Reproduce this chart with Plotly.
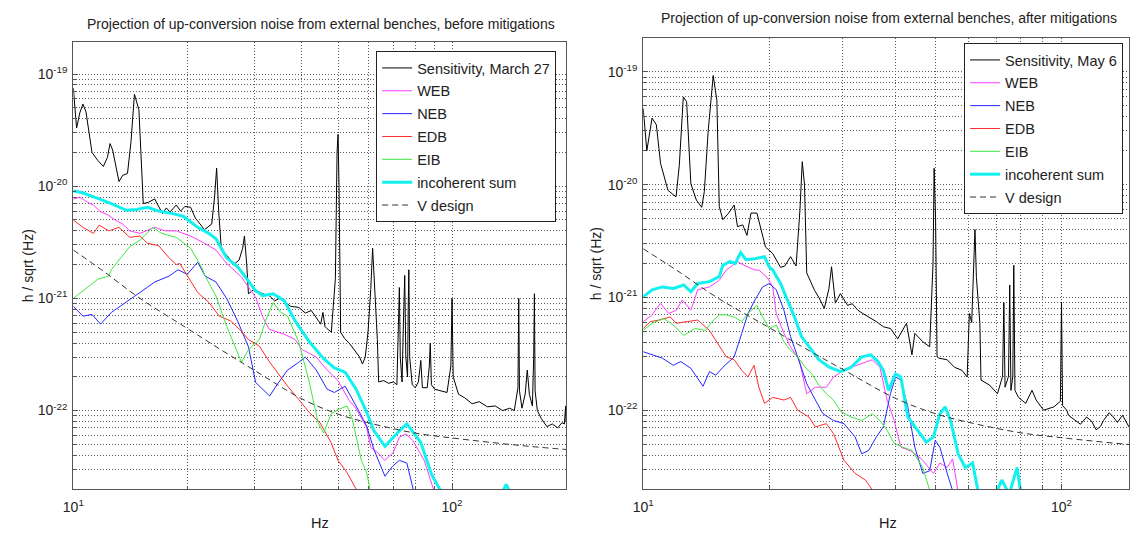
import math
import plotly.graph_objects as go

# ---------------- Left panel: before mitigations (March 27) ----------------
L_SENS = [
    (10.0, 7.5e-20), (10.1, 5.0e-20), (10.2, 3.3e-20), (10.4, 4.5e-20), (10.6, 5.4e-20),
    (10.8, 4.6e-20), (11.2, 2.0e-20), (11.6, 1.7e-20), (12.0, 1.5e-20), (12.3, 1.8e-20),
    (12.5, 2.4e-20), (12.7, 2.1e-20), (13.2, 1.1e-20), (13.5, 1.25e-20), (13.9, 1.3e-20),
    (14.2, 2.5e-20), (14.5, 6.6e-20), (14.9, 4.8e-20), (15.1, 1.6e-20), (15.3, 7.0e-21),
    (15.8, 7.2e-21), (16.4, 7.7e-21), (16.8, 6.6e-21), (17.2, 5.7e-21), (17.6, 6.4e-21),
    (18.0, 5.9e-21), (18.7, 6.8e-21), (19.2, 6.0e-21), (19.7, 6.6e-21), (20.4, 6.5e-21),
    (21.0, 5.2e-21), (21.6, 4.6e-21), (22.2, 4.1e-21), (23.2, 4.6e-21), (23.6, 8.0e-21),
    (23.9, 1.45e-20), (24.2, 6.0e-21), (24.6, 2.7e-21), (25.5, 2.4e-21), (26.5, 2.0e-21),
    (27.4, 2.2e-21), (28.0, 2.8e-21), (28.3, 3.6e-21), (28.7, 2.0e-21), (29.0, 1.1e-21),
    (30.0, 1.2e-21), (31.6, 1.1e-21), (33.0, 1.05e-21), (34.0, 9.5e-22), (35.0, 1.0e-21),
    (36.0, 9.4e-22), (37.5, 8.5e-22), (39.4, 8.3e-22), (41.0, 7.4e-22), (42.5, 7.8e-22),
    (43.8, 6.7e-22), (45.0, 5.9e-22), (45.6, 7.5e-22), (46.2, 5.6e-22), (46.7, 5.4e-22),
    (48.0, 5.0e-22), (49.2, 1.5e-21), (49.7, 2.0e-20), (50.0, 2.9e-20), (50.3, 1.0e-20),
    (50.8, 5.0e-22), (52.0, 4.4e-22), (53.5, 4.0e-22), (55.6, 3.4e-22), (57.0, 3.0e-22),
    (58.0, 2.6e-22), (59.0, 3.0e-22), (60.0, 5.0e-22), (61.0, 1.2e-21), (61.7, 2.8e-21),
    (62.3, 1.5e-21), (63.0, 6.0e-22), (63.5, 4.3e-22), (64.0, 1.8e-22), (66.0, 1.85e-22),
    (68.0, 1.75e-22), (70.0, 1.8e-22), (71.5, 1.7e-22), (72.2, 6.0e-22), (72.6, 1.25e-21),
    (73.0, 3.0e-22), (73.8, 1.8e-22), (74.4, 6.0e-22), (75.0, 1.6e-21), (75.5, 3.0e-22),
    (76.3, 2.0e-22), (76.6, 8.0e-22), (76.9, 1.8e-21), (77.3, 3.0e-22), (78.5, 1.7e-22),
    (80.0, 1.6e-22), (81.5, 1.8e-22), (82.7, 2.8e-22), (83.5, 1.6e-22), (86.0, 1.6e-22),
    (87.1, 2.5e-22), (87.6, 4.0e-22), (88.2, 1.7e-22), (90.0, 1.55e-22), (94.0, 1.5e-22),
    (97.0, 1.45e-22), (99.3, 2.5e-22), (100.0, 1.0e-21), (100.7, 2.0e-22), (104.0, 1.4e-22),
    (108.0, 1.3e-22), (113.0, 1.15e-22), (118.0, 1.2e-22), (124.0, 1.08e-22), (130.0, 1.1e-22),
    (136.0, 1.0e-22), (142.0, 1.05e-22), (146.0, 1.0e-22), (149.3, 1.6e-22), (150.0, 1.0e-21),
    (150.7, 1.5e-22), (153.0, 1.05e-22), (156.0, 1.4e-22), (158.0, 2.3e-22), (160.0, 1.4e-22),
    (163.0, 1.1e-22), (164.3, 3.0e-22), (165.0, 1.1e-21), (165.7, 1.5e-22), (168.0, 1.0e-22),
    (172.0, 8.5e-23), (178.0, 7.2e-23), (184.0, 7.6e-23), (190.0, 7.0e-23), (195.0, 7.8e-23),
    (198.0, 7.6e-23), (199.5, 1.1e-22), (200.0, 8.0e-23),
]
L_WEB = [
    (10.0, 7.65e-21), (10.4, 8.0e-21), (10.9, 7.2e-21), (11.3, 6.8e-21), (11.8, 5.9e-21),
    (12.3, 5.6e-21), (12.9, 5.0e-21), (13.5, 4.6e-21), (14.1, 4.0e-21), (15.0, 3.8e-21),
    (16.4, 4.3e-21), (17.5, 4.0e-21), (18.7, 4.0e-21), (20.4, 3.6e-21), (22.2, 3.1e-21),
    (23.8, 2.7e-21), (25.4, 2.05e-21), (27.8, 1.55e-21), (30.3, 1.02e-21), (31.6, 6.9e-22),
    (32.9, 5.3e-22), (36.0, 4.8e-22), (38.5, 4.3e-22), (40.2, 3.5e-22), (43.8, 3.0e-22),
    (46.8, 2.3e-22), (50.0, 1.85e-22), (53.5, 1.23e-22), (55.7, 1.05e-22), (59.5, 7.1e-23),
    (61.0, 4.7e-23), (63.7, 4.2e-23), (66.4, 3.6e-23), (69.9, 4.2e-23), (72.6, 5.8e-23),
    (75.7, 6.2e-23), (78.8, 5.4e-23), (84.4, 3.6e-23), (90.2, 1.8e-23), (100.0, 1.2e-23),
]
L_NEB = [
    (10.0, 8.5e-22), (10.6, 6.95e-22), (11.2, 7.2e-22), (11.8, 5.9e-22), (12.6, 7.5e-22),
    (13.8, 9.2e-22), (15.0, 1.13e-21), (16.4, 1.4e-21), (17.9, 1.58e-21), (18.9, 1.8e-21),
    (20.0, 1.64e-21), (21.3, 2.1e-21), (22.3, 1.58e-21), (23.8, 1.4e-21), (25.4, 1.0e-21),
    (27.2, 6.2e-22), (29.0, 3.7e-22), (30.3, 1.78e-22), (31.6, 1.55e-22), (33.0, 1.35e-22),
    (34.5, 1.7e-22), (36.8, 2.3e-22), (39.4, 2.7e-22), (41.0, 3.0e-22), (43.8, 2.3e-22),
    (46.8, 1.55e-22), (48.9, 1.45e-22), (52.2, 1.65e-22), (55.8, 1.1e-22), (59.5, 7.3e-23),
    (62.2, 4.5e-23), (66.5, 2.6e-23), (69.7, 3.2e-23), (72.6, 3.6e-23), (76.0, 3.4e-23),
    (79.2, 1.9e-23), (85.0, 1.4e-23),
]
L_EDB = [
    (10.0, 5.0e-21), (10.6, 4.3e-21), (11.3, 3.8e-21), (11.7, 4.5e-21), (12.4, 4.0e-21),
    (13.2, 4.3e-21), (14.1, 3.5e-21), (15.0, 3.6e-21), (15.7, 3.1e-21), (16.8, 2.95e-21),
    (17.9, 2.3e-21), (18.7, 2.0e-21), (19.1, 2.05e-21), (20.0, 1.58e-21), (21.3, 1.13e-21),
    (22.8, 9.2e-22), (24.3, 6.95e-22), (26.0, 6.3e-22), (27.8, 5.1e-22), (29.0, 4.3e-22),
    (31.0, 3.75e-22), (33.0, 2.7e-22), (35.3, 2.0e-22), (36.8, 1.65e-22), (39.4, 1.25e-22),
    (42.0, 9.6e-23), (44.8, 7.8e-23), (47.9, 5.2e-23), (50.0, 3.6e-23), (52.8, 2.8e-23),
    (55.8, 2.0e-23), (60.0, 1.5e-23),
]
L_EIB = [
    (10.0, 1.0e-21), (10.6, 1.16e-21), (11.6, 1.48e-21), (12.4, 1.58e-21), (12.6, 1.8e-21),
    (13.2, 2.2e-21), (14.1, 2.9e-21), (15.0, 3.3e-21), (16.2, 4.3e-21), (17.1, 3.8e-21),
    (18.7, 3.5e-21), (20.4, 2.8e-21), (21.8, 1.9e-21), (22.3, 1.58e-21), (23.8, 1.05e-21),
    (25.4, 5.65e-22), (26.5, 4.05e-22), (27.8, 2.7e-22), (29.0, 3.5e-22), (31.0, 4.3e-22),
    (32.3, 6.5e-22), (33.7, 9.2e-22), (35.3, 7.5e-22), (36.8, 6.95e-22), (39.4, 4.05e-22),
    (42.0, 1.78e-22), (44.3, 7.8e-23), (45.8, 6.3e-23), (47.9, 9.3e-23), (50.0, 1.02e-22),
    (52.8, 1.1e-22), (54.6, 8.3e-23), (57.6, 3.6e-23), (59.5, 2.8e-23), (60.9, 1.9e-23),
    (64.0, 1.4e-23),
]
L_SUM = [
    (10.0, 9.1e-21), (10.6, 8.7e-21), (11.6, 7.8e-21), (12.6, 7.0e-21), (13.8, 6.1e-21),
    (14.7, 6.2e-21), (15.7, 6.5e-21), (16.8, 6.0e-21), (18.3, 5.7e-21), (19.5, 5.4e-21),
    (21.3, 4.3e-21), (22.8, 3.8e-21), (23.8, 3.4e-21), (25.4, 2.3e-21), (27.2, 1.9e-21),
    (28.4, 1.55e-21), (30.3, 1.17e-21), (31.6, 1.06e-21), (33.7, 1.1e-21), (36.1, 9.5e-22),
    (38.5, 6.3e-22), (42.0, 4.1e-22), (45.8, 2.9e-22), (48.9, 2.4e-22), (52.2, 2.2e-22),
    (55.8, 1.55e-22), (59.5, 9.7e-23), (62.2, 6.6e-23), (66.5, 4.8e-23), (69.7, 5.7e-23),
    (72.6, 6.6e-23), (76.0, 7.6e-23), (78.3, 6.6e-23), (82.7, 5.2e-23), (88.3, 2.7e-23),
    (94.3, 1.8e-23), (110.0, 1.2e-23), (135.0, 1.8e-23), (139.0, 2.2e-23), (143.0, 1.8e-23),
    (160.0, 1.2e-23),
]

# ---------------- Right panel: after mitigations (May 6) ----------------
R_SENS = [
    (10.0, 4.75e-20), (10.2, 2.0e-20), (10.5, 3.9e-20), (10.75, 3.4e-20), (11.0, 1.55e-20),
    (11.46, 8.9e-21), (11.98, 7.8e-21), (12.2, 1.5e-20), (12.47, 6.0e-20), (12.7, 5.45e-20),
    (13.0, 1.02e-20), (13.4, 7.3e-21), (13.8, 6.3e-21), (14.0, 8.7e-21), (14.3, 3.0e-20),
    (14.7, 9.3e-20), (15.0, 5.6e-20), (15.2, 6.4e-21), (15.5, 4.9e-21), (16.0, 5.6e-21),
    (16.5, 6.6e-21), (16.8, 4.25e-21), (17.3, 4.4e-21), (17.7, 3.55e-21), (18.1, 5.6e-21),
    (18.7, 5.6e-21), (19.6, 2.8e-21), (20.4, 2.45e-21), (21.3, 1.85e-21), (21.8, 1.9e-21),
    (22.5, 2.3e-21), (23.2, 1.9e-21), (23.7, 6.0e-21), (24.0, 1.6e-20), (24.3, 1.0e-20),
    (24.6, 1.65e-21), (25.7, 1.15e-21), (26.3, 1.0e-21), (27.1, 8.0e-22), (27.8, 1.2e-21),
    (28.2, 1.87e-21), (28.8, 8.9e-22), (29.6, 1.08e-21), (30.8, 8.5e-22), (31.6, 8.8e-22),
    (32.6, 7.7e-22), (33.5, 7.2e-22), (34.6, 6.7e-22), (36.1, 6.1e-22), (37.5, 5.5e-22),
    (39.0, 5.3e-22), (40.6, 4.3e-22), (42.6, 5.9e-22), (43.9, 3.1e-22), (44.6, 4.8e-22),
    (46.6, 4.05e-22), (48.4, 3.65e-22), (49.3, 2.0e-21), (49.6, 1.4e-20), (50.0, 5.0e-21),
    (50.4, 3.0e-22), (50.8, 2.9e-22), (53.3, 2.8e-22), (55.5, 2.4e-22), (57.8, 2.26e-22),
    (59.5, 1.97e-22), (60.2, 7.2e-22), (61.0, 6.0e-22), (61.7, 2.0e-21), (62.1, 4.0e-21),
    (62.6, 1.5e-21), (63.8, 5.9e-22), (64.2, 1.85e-22), (67.3, 1.67e-22), (70.3, 1.4e-22),
    (72.3, 2.0e-22), (72.8, 9.0e-22), (73.3, 1.6e-22), (74.7, 2.0e-22), (75.2, 1.29e-21),
    (75.7, 1.5e-22), (76.5, 2.0e-22), (76.9, 1.93e-21), (77.4, 1.5e-22), (78.9, 1.3e-22),
    (82.1, 1.15e-22), (85.0, 1.5e-22), (87.0, 1.23e-22), (90.6, 1.0e-22), (95.9, 1.07e-22),
    (99.4, 1.2e-22), (100.0, 9.0e-22), (100.6, 1.1e-22), (102.9, 1.0e-22), (104.0, 9.0e-23),
    (108.0, 8.1e-23), (111.0, 7.5e-23), (114.8, 8.7e-23), (118.0, 8.0e-23), (121.0, 6.7e-23),
    (124.0, 7.2e-23), (126.0, 8.1e-23), (130.0, 9.5e-23), (133.0, 8.7e-23), (136.0, 7.8e-23),
    (140.0, 9.0e-23), (145.0, 7.1e-23),
]
R_WEB = [
    (10.0, 6.1e-22), (10.5, 7.0e-22), (11.0, 8.9e-22), (11.5, 7.2e-22), (12.0, 7.7e-22),
    (12.4, 9.5e-22), (13.0, 7.7e-22), (13.5, 1.17e-21), (14.4, 1.24e-21), (15.2, 1.42e-21),
    (15.8, 1.75e-21), (16.5, 2.0e-21), (16.8, 2.08e-21), (17.4, 1.93e-21), (18.5, 1.75e-21),
    (18.9, 1.75e-21), (19.8, 1.5e-21), (20.4, 1.24e-21), (20.8, 7.2e-22), (21.7, 4.8e-22),
    (22.5, 3.65e-22), (23.6, 2.8e-22), (24.6, 1.4e-22), (25.8, 1.6e-22), (27.4, 1.6e-22),
    (28.5, 1.97e-22), (30.2, 2.26e-22), (31.4, 2.4e-22), (33.3, 2.6e-22), (35.3, 2.8e-22),
    (36.8, 2.4e-22), (38.3, 1.23e-22), (39.8, 8.1e-23), (41.3, 4.7e-23), (43.9, 4.3e-23),
    (46.6, 3.6e-23), (49.4, 2.75e-23), (51.2, 3.4e-23), (53.3, 3.1e-23), (54.9, 3.7e-23),
    (56.6, 1.9e-23), (60.0, 1.3e-23),
]
R_NEB = [
    (10.0, 3.3e-22), (10.5, 3.1e-22), (11.1, 2.9e-22), (11.8, 2.5e-22), (12.3, 2.7e-22),
    (13.0, 2.35e-22), (13.9, 1.63e-22), (14.4, 2.2e-22), (14.9, 2.04e-22), (15.5, 2.4e-22),
    (16.5, 2.97e-22), (17.2, 4.8e-22), (17.8, 7.2e-22), (18.5, 9.5e-22), (19.3, 1.24e-21),
    (20.0, 1.33e-21), (20.8, 1.17e-21), (21.7, 7.7e-22), (22.5, 4.5e-22), (23.4, 2.97e-22),
    (24.6, 1.72e-22), (25.8, 1.23e-22), (26.9, 9.3e-23), (28.5, 8.1e-23), (30.2, 7.6e-23),
    (32.1, 5.8e-23), (33.3, 4.1e-23), (34.6, 4.4e-23), (36.1, 5.8e-23), (37.5, 7.1e-23),
    (39.0, 1.4e-22), (40.1, 1.97e-22), (41.3, 1.85e-22), (42.9, 1.07e-22), (44.6, 4.7e-23),
    (46.6, 2.75e-23), (48.4, 2.9e-23), (49.9, 5.4e-23), (51.2, 4.7e-23), (53.3, 2.75e-23),
    (55.0, 1.9e-23), (58.0, 1.4e-23),
]
R_EDB = [
    (10.0, 5.3e-22), (10.4, 6.1e-22), (10.9, 6.3e-22), (11.6, 6.7e-22), (12.0, 5.9e-22),
    (12.8, 6.1e-22), (13.5, 6.3e-22), (14.4, 5.1e-22), (14.9, 4.2e-22), (15.8, 2.97e-22),
    (16.5, 2.8e-22), (17.2, 2.26e-22), (17.8, 1.97e-22), (18.4, 2.5e-22), (18.9, 1.6e-22),
    (19.5, 1.15e-22), (20.4, 1.3e-22), (21.7, 1.23e-22), (22.5, 1.3e-22), (23.4, 1.0e-22),
    (24.9, 8.7e-23), (25.8, 7.1e-23), (27.4, 7.6e-23), (28.5, 6.2e-23), (30.2, 3.6e-23),
    (32.1, 2.75e-23), (34.0, 2.4e-23), (35.5, 1.9e-23), (38.0, 1.4e-23),
]
R_EIB = [
    (10.0, 5.1e-22), (10.5, 5.9e-22), (11.2, 6.5e-22), (11.8, 5.7e-22), (12.5, 4.6e-22),
    (13.3, 5.3e-22), (14.1, 5.1e-22), (14.6, 6.1e-22), (15.2, 7.0e-22), (15.8, 7.0e-22),
    (16.5, 6.7e-22), (17.2, 6.1e-22), (17.8, 7.2e-22), (18.7, 8.5e-22), (19.3, 6.7e-22),
    (20.0, 5.3e-22), (20.8, 5.7e-22), (21.7, 4.05e-22), (22.5, 3.4e-22), (23.4, 2.97e-22),
    (24.4, 2.4e-22), (25.3, 2.1e-22), (26.3, 1.67e-22), (27.4, 1.4e-22), (28.5, 1.23e-22),
    (29.7, 9.7e-23), (31.4, 8.7e-23), (33.3, 8.1e-23), (35.3, 9.3e-23), (36.8, 8.1e-23),
    (38.3, 6.6e-23), (39.8, 5.1e-23), (41.7, 4.7e-23), (43.9, 4.4e-23), (46.6, 3.1e-23),
    (48.5, 1.9e-23), (52.0, 1.4e-23),
]
R_SUM = [
    (10.0, 1.01e-21), (10.5, 1.17e-21), (11.1, 1.24e-21), (11.8, 1.2e-21), (12.5, 1.29e-21),
    (13.0, 1.12e-21), (13.5, 1.33e-21), (14.4, 1.38e-21), (15.2, 1.53e-21), (15.5, 1.93e-21),
    (16.1, 2.08e-21), (16.6, 2.0e-21), (17.1, 2.5e-21), (17.6, 2.16e-21), (18.5, 2.2e-21),
    (19.5, 2.3e-21), (20.0, 1.87e-21), (20.4, 1.75e-21), (21.3, 1.33e-21), (22.1, 9.5e-22),
    (23.0, 6.7e-22), (23.9, 4.5e-22), (25.3, 3.4e-22), (26.3, 2.8e-22), (27.9, 2.4e-22),
    (29.7, 2.2e-22), (31.4, 2.4e-22), (33.3, 2.97e-22), (35.0, 3.1e-22), (36.4, 2.7e-22),
    (37.5, 2.26e-22), (38.6, 1.5e-22), (40.1, 2.1e-22), (41.3, 1.97e-22), (42.9, 8.7e-23),
    (44.6, 7.1e-23), (47.5, 5.2e-23), (49.4, 5.8e-23), (51.2, 9.3e-23), (52.7, 1.07e-22),
    (54.3, 8.1e-23), (56.6, 4.1e-23), (58.9, 3.1e-23), (61.3, 3.4e-23), (63.2, 1.9e-23),
    (68.0, 1.5e-23), (72.0, 2.4e-23), (75.0, 1.8e-23), (78.3, 3.1e-23), (80.0, 1.8e-23),
    (85.0, 1.3e-23),
]

# Virgo design sensitivity (same in both panels)
V_DESIGN = [
    (10.0, 2.7e-21), (12.0, 1.75e-21), (15.0, 1.0e-21), (20.0, 5.4e-22), (25.0, 3.35e-22),
    (30.0, 2.3e-22), (40.0, 1.28e-22), (50.0, 9.3e-23), (60.0, 7.8e-23), (80.0, 6.3e-23),
    (100.0, 5.7e-23), (150.0, 4.9e-23), (200.0, 4.5e-23),
]

LEFT_TITLE = "Projection of up-conversion noise from external benches, before mitigations"
RIGHT_TITLE = "Projection of up-conversion noise from external benches, after mitigations"
LEFT_NAMES = ["Sensitivity, March 27", "WEB", "NEB", "EDB", "EIB", "incoherent sum", "V design"]
RIGHT_NAMES = ["Sensitivity, May 6", "WEB", "NEB", "EDB", "EIB", "incoherent sum", "V design"]

STYLES = [
    dict(color="#000000", width=1),
    dict(color="#ff3cff", width=1),
    dict(color="#2626ff", width=1),
    dict(color="#ff2a2a", width=1),
    dict(color="#3ee83e", width=1),
    dict(color="#12f0f0", width=3),
    dict(color="#333333", width=1, dash="6px,4px"),
]

W, H = 1130, 534
FONT = "Liberation Sans, Arial, Helvetica, sans-serif"
TXT = "#222222"

fig = go.Figure()

left_series = [L_SENS, L_WEB, L_NEB, L_EDB, L_EIB, L_SUM, V_DESIGN]
right_series = [R_SENS, R_WEB, R_NEB, R_EDB, R_EIB, R_SUM, V_DESIGN]

for i, (data, name) in enumerate(zip(left_series, LEFT_NAMES)):
    fig.add_trace(go.Scatter(
        x=[p[0] for p in data], y=[p[1] for p in data], mode="lines", name=name,
        line=STYLES[i], xaxis="x", yaxis="y", legend="legend",
        legendgroup=f"L{i}", line_shape="spline" if i == 6 else "linear",
    ))
for i, (data, name) in enumerate(zip(right_series, RIGHT_NAMES)):
    fig.add_trace(go.Scatter(
        x=[p[0] for p in data], y=[p[1] for p in data], mode="lines", name=name,
        line=STYLES[i], xaxis="x2", yaxis="y2", legend="legend2",
        legendgroup=f"R{i}", line_shape="spline" if i == 6 else "linear",
    ))


def log_ticks(lo, hi):
    major, minor = [], []
    e = math.floor(math.log10(lo))
    while 10 ** e <= hi * 1.0001:
        for m in range(1, 10):
            v = m * 10 ** e
            if lo * 0.9999 <= v <= hi * 1.0001:
                (major if m == 1 else minor).append(v)
        e += 1
    return major, minor


def sup_label(v):
    return f"10<sup>{round(math.log10(v))}</sup>"


Y_LO, Y_HI_L, Y_HI_R = 2.0e-23, 1.93e-19, 2.0e-19
yM_l, ym_l = log_ticks(Y_LO, Y_HI_L)
yM_r, ym_r = log_ticks(Y_LO, Y_HI_R)
xM_l, xm_l = log_ticks(10, 200)
xM_r, xm_r = log_ticks(10, 145)

GRID = dict(gridcolor="#5a5a5a", griddash="1px,2px", gridwidth=1)
common = dict(
    type="log", showgrid=True, **GRID,
    showline=True, linecolor="#555555", linewidth=1, mirror=True,
    ticks="inside", ticklen=5, tickcolor="#555555", zeroline=False,
    tickfont=dict(family=FONT, size=14, color=TXT), tickmode="array",
)


def minor_cfg(vals):
    return dict(tickmode="array", tickvals=vals, ticks="inside", ticklen=3,
                tickcolor="#555555", showgrid=True, **GRID)


# pixel geometry of the two axes boxes
LX0, LX1, LY0, LY1 = 63, 561, 42, 489
RX0, RX1, RY0, RY1 = 639, 1130, 38, 489

fig.update_layout(
    width=W, height=H, margin=dict(l=0, r=0, t=0, b=0),
    paper_bgcolor="white", plot_bgcolor="white",
    font=dict(family=FONT, color=TXT),
    xaxis=dict(common, domain=[LX0 / W, LX1 / W], range=[1, math.log10(200)],
               tickvals=xM_l, ticktext=[sup_label(v) for v in xM_l],
               minor=minor_cfg(xm_l), anchor="y", ticklabelstandoff=5),
    yaxis=dict(common, domain=[1 - LY1 / H, 1 - LY0 / H],
               range=[math.log10(Y_LO), math.log10(Y_HI_L)],
               tickvals=yM_l, ticktext=[sup_label(v) for v in yM_l],
               minor=minor_cfg(ym_l), anchor="x", ticklabelstandoff=2),
    xaxis2=dict(common, domain=[RX0 / W, RX1 / W], range=[1, math.log10(145)],
                tickvals=xM_r, ticktext=[sup_label(v) for v in xM_r],
                minor=minor_cfg(xm_r), anchor="y2", ticklabelstandoff=5),
    yaxis2=dict(common, domain=[1 - RY1 / H, 1 - RY0 / H],
                range=[math.log10(Y_LO), math.log10(Y_HI_R)],
                tickvals=yM_r, ticktext=[sup_label(v) for v in yM_r],
                minor=minor_cfg(ym_r), anchor="x2", ticklabelstandoff=2),
    legend=dict(x=551 / W, xanchor="right", y=1 - 51 / H, yanchor="top",
                bgcolor="white", bordercolor="#222222", borderwidth=1,
                font=dict(family=FONT, size=14.5, color=TXT), tracegroupgap=1,
                itemwidth=30),
    legend2=dict(x=1124 / W, xanchor="right", y=1 - 43 / H, yanchor="top",
                 bgcolor="white", bordercolor="#222222", borderwidth=1,
                 font=dict(family=FONT, size=14.5, color=TXT), tracegroupgap=1,
                 itemwidth=30),
    showlegend=True,
)

annots = [
    dict(text=LEFT_TITLE, x=313 / W, y=1 - 24 / H, size=14),
    dict(text=RIGHT_TITLE, x=887 / W, y=1 - 18 / H, size=14),
    dict(text="Hz", x=312 / W, y=1 - 523 / H, size=14.5),
    dict(text="Hz", x=886 / W, y=1 - 523 / H, size=14.5),
]
for a in annots:
    fig.add_annotation(text=a["text"], x=a["x"], y=a["y"], xref="paper", yref="paper",
                       showarrow=False, xanchor="center", yanchor="middle",
                       font=dict(family=FONT, size=a["size"], color=TXT))
for xpos, ymid in [(18, (LY0 + LY1) / 2), (592, (RY0 + RY1) / 2)]:
    fig.add_annotation(text="h / sqrt (Hz)", x=xpos / W, y=1 - ymid / H, xref="paper",
                       yref="paper", showarrow=False, textangle=-90,
                       xanchor="center", yanchor="middle",
                       font=dict(family=FONT, size=14, color=TXT))

fig.write_html("out.html")
